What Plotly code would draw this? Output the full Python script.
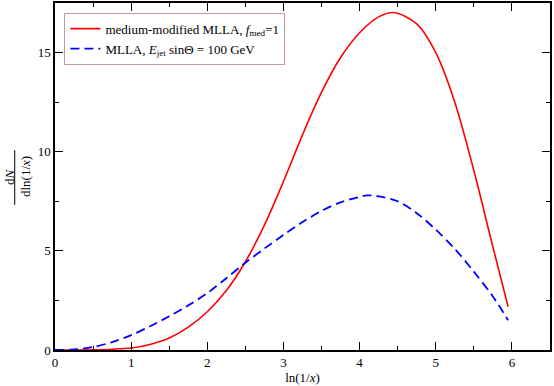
import plotly.graph_objects as go

# Data
x_red = [0.0, 0.25, 0.5, 0.75, 1.0, 1.25, 1.5, 1.75, 2.0, 2.25, 2.5, 2.75, 3.0, 3.25,
         3.5, 3.75, 4.0, 4.25, 4.45, 4.75, 5.0, 5.25, 5.5, 5.75, 5.95]
y_red = [0.0, 0.0, 0.01, 0.04, 0.1, 0.28, 0.6, 1.15, 1.93, 3.0, 4.45, 6.3, 8.5, 10.85,
         13.0, 14.75, 16.0, 16.8, 17.02, 16.45, 15.0, 12.5, 9.05, 5.2, 2.18]

x_blue = [0.0, 0.25, 0.5, 0.75, 1.0, 1.25, 1.5, 1.75, 2.0, 2.25, 2.5, 2.75, 3.0, 3.25,
          3.5, 3.75, 4.0, 4.1, 4.25, 4.5, 4.75, 5.0, 5.25, 5.5, 5.75, 5.95]
y_blue = [0.0, 0.03, 0.15, 0.4, 0.75, 1.2, 1.7, 2.25, 2.87, 3.62, 4.4, 5.12, 5.8, 6.45,
          7.02, 7.45, 7.72, 7.8, 7.75, 7.5, 6.9, 6.07, 5.1, 3.95, 2.7, 1.5]

name_red = "medium-modified MLLA, <i>f</i><sub>med</sub>=1"
name_blue = "MLLA, <i>E</i><sub>jet</sub> sin\u0398 = 100 GeV"

FONT = "Liberation Serif, Times New Roman, Times, serif"

fig = go.Figure()
fig.add_trace(go.Scatter(x=x_red, y=y_red, mode="lines", name=name_red,
                         line=dict(color="#ff0000", width=1.6, shape="spline", smoothing=0.9)))
fig.add_trace(go.Scatter(x=x_blue, y=y_blue, mode="lines", name=name_blue,
                         line=dict(color="#0000ff", width=1.8, dash="9px,5px", shape="spline",
                                   smoothing=0.9)))

axis_common = dict(
    showline=True, linecolor="black", linewidth=1.5, mirror="allticks",
    ticks="inside", ticklen=8, tickwidth=1.3, tickcolor="black",
    showgrid=False, zeroline=False, automargin=False,
    tickfont=dict(family=FONT, size=13, color="black"),
)

fig.update_xaxes(range=[0, 6.5], dtick=1, tick0=0, ticklabelstandoff=0,
                 minor=dict(ticks="inside", ticklen=4, dtick=0.5, tickcolor="black", tickwidth=1),
                 title=dict(text="ln(1/<i>x</i>)", font=dict(family=FONT, size=13, color="black"),
                            standoff=0),
                 **axis_common)
fig.update_yaxes(range=[0, 17.5], dtick=5, tick0=0,
                 minor=dict(ticks="inside", ticklen=4, dtick=2.5, tickcolor="black", tickwidth=1),
                 **axis_common)

# y-axis title as a stacked fraction
fig.add_annotation(xref="paper", yref="paper", x=-0.0919, y=0.5, xanchor="center", yanchor="middle",
                   text="d<i>N</i>", textangle=-90, showarrow=False,
                   font=dict(family=FONT, size=13, color="black"))
fig.add_annotation(xref="paper", yref="paper", x=-0.0596, y=0.5, xanchor="center", yanchor="middle",
                   text="dln(1/<i>x</i>)", textangle=-90, showarrow=False,
                   font=dict(family=FONT, size=13, color="black"))
fig.add_shape(type="line", xref="paper", yref="paper", x0=-0.0814, x1=-0.0814, y0=0.418, y1=0.576,
              line=dict(color="black", width=1))

fig.update_layout(
    width=554, height=386,
    margin=dict(l=55, r=4, t=3, b=36),
    paper_bgcolor="white", plot_bgcolor="white",
    font=dict(family=FONT, size=13, color="black"),
    legend=dict(x=0.019, y=0.972, xanchor="left", yanchor="top",
                bgcolor="white", bordercolor="#c49a9a", borderwidth=1,
                font=dict(family=FONT, size=13, color="black"),
                tracegroupgap=0, itemwidth=30),
    showlegend=True,
)

fig.write_html("out.html", config={"displayModeBar": False},
               post_script="document.body.style.margin='0';document.body.style.padding='0';")
